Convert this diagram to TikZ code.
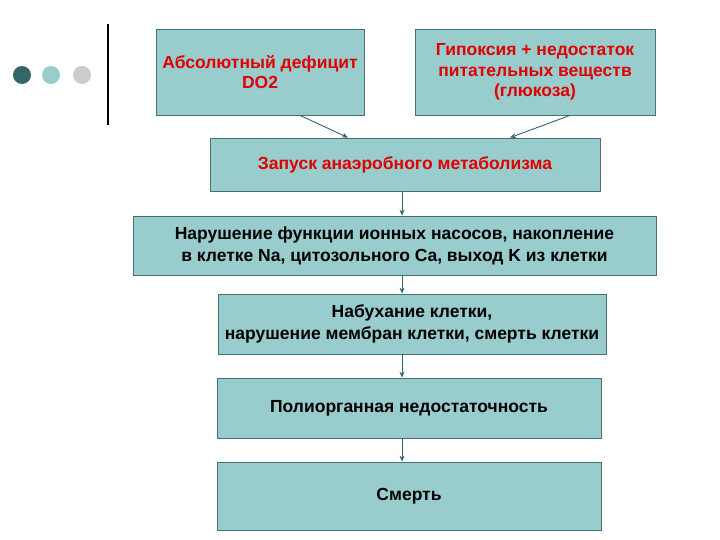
\documentclass[tikz,border=0pt]{standalone}
\usepackage{fontspec}
\usetikzlibrary{arrows.meta}
\setmainfont{Liberation Sans}
\definecolor{bfill}{HTML}{99CCCC}
\definecolor{bdraw}{HTML}{4A7070}
\definecolor{dot1}{HTML}{336666}
\definecolor{dot2}{HTML}{99CCCC}
\definecolor{dot3}{HTML}{CCCCCC}
\definecolor{rtext}{HTML}{E00000}
\begin{document}
\begin{tikzpicture}[x=1pt,y=-1pt,
  box/.style={draw=bdraw,fill=bfill,line width=0.8pt,inner sep=0pt,align=center,font=\fontsize{17.5}{22}\selectfont},
  redtxt/.style={text=rtext,font=\bfseries\fontsize{17.5}{20.5}\selectfont},
  arr/.style={draw=dot1,line width=0.9pt,-{Stealth[length=6pt,width=5pt]}}]
\useasboundingbox (0,0) rectangle (720,540);
\fill[dot1] (22,75) circle (9);
\fill[dot2] (51,75) circle (9);
\fill[dot3] (82,75) circle (9);
\draw[line width=2.5pt] (108,24) -- (108,125);
\node[box,minimum width=208,minimum height=86,redtxt] (b1) at (260,72) {Абсолютный дефицит\\DO2};
\node[box,minimum width=240,minimum height=86,redtxt] (b2) at (535,72) {Гипоксия + недостаток\\питательных веществ\\(глюкоза)};
\node[box,minimum width=390,minimum height=53,redtxt] (b3) at (405,164.5) {Запуск анаэробного метаболизма};
\node[box,minimum width=523,minimum height=59] (b4) at (394.5,245.5) {\bfseries Нарушение функции ионных насосов, накопление\\\bfseries в клетке Na, цитозольного Ca, выход K из клетки};
\node[box,minimum width=388,minimum height=60] (b5) at (412,324) {\bfseries Набухание клетки,\\\bfseries нарушение мембран клетки, смерть клетки};
\node[box,minimum width=384,minimum height=60] (b6) at (409,408) {\bfseries Полиорганная недостаточность};
\node[box,minimum width=384,minimum height=68] (b7) at (409,496) {\bfseries Смерть};
\draw[arr] (b1.south -| 300,0) -- (b3.north -| 348,0);
\draw[arr] (b2.south -| 570,0) -- (b3.north -| 510,0);
\draw[arr] (b3.south -| 402,0) -- (b4.north -| 402,0);
\draw[arr] (b4.south -| 402,0) -- (b5.north -| 402,0);
\draw[arr] (b5.south -| 402,0) -- (b6.north -| 402,0);
\draw[arr] (b6.south -| 402,0) -- (b7.north -| 402,0);
\end{tikzpicture}
\end{document}
